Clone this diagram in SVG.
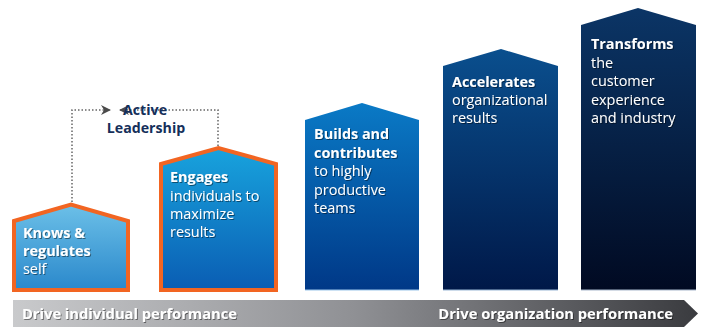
<svg xmlns="http://www.w3.org/2000/svg" width="702" height="328" viewBox="0 0 702 328">
<defs>
<style>
.t{font-family:"Open Sans","Noto Sans","Liberation Sans",sans-serif;font-size:14.4px;fill:#fff;filter:url(#sh)}
.b{font-weight:bold}
.bar{font-size:14.7px}
.al{font-family:"Open Sans","Noto Sans","Liberation Sans",sans-serif;font-size:14.2px;font-weight:bold;fill:#152f5a;text-anchor:middle}
.conn{fill:none;stroke:#666;stroke-width:1.5;stroke-dasharray:1.5 2}
.ob{stroke:#f26522;stroke-width:4;stroke-linejoin:miter}
</style>
<filter id="sh" x="-10%" y="-30%" width="130%" height="170%">
<feDropShadow dx="1" dy="1" stdDeviation="0.7" flood-color="#000" flood-opacity="0.45"/>
</filter>
<linearGradient id="g1" x1="0" y1="0" x2="0" y2="1"><stop offset="0" stop-color="#6cc0e8"/><stop offset="1" stop-color="#2a88cb"/></linearGradient>
<linearGradient id="g2" x1="0" y1="0" x2="0" y2="1"><stop offset="0" stop-color="#18a3dd"/><stop offset="1" stop-color="#0a5db3"/></linearGradient>
<linearGradient id="g3" x1="0" y1="0" x2="0" y2="1"><stop offset="0" stop-color="#0a7ac6"/><stop offset="1" stop-color="#003887"/></linearGradient>
<linearGradient id="g4" x1="0" y1="0" x2="0" y2="1"><stop offset="0" stop-color="#0a4f8e"/><stop offset="1" stop-color="#001848"/></linearGradient>
<linearGradient id="g5" x1="0" y1="0" x2="0" y2="1"><stop offset="0" stop-color="#0b3566"/><stop offset="1" stop-color="#010a22"/></linearGradient>
<linearGradient id="gb" x1="0" y1="0" x2="1" y2="0"><stop offset="0" stop-color="#c9cacc"/><stop offset="0.5" stop-color="#8f9094"/><stop offset="1" stop-color="#3a3b3f"/></linearGradient>
<marker id="ah" viewBox="0 0 10 10" refX="9" refY="5" markerWidth="10" markerHeight="10" markerUnits="userSpaceOnUse" orient="auto">
<path d="M0,0 L10,5 L0,10 L3,5 Z" fill="#4a4a4a"/>
</marker>
</defs>

<g id="connectors">
<path class="conn" d="M72,202 V110 H110" marker-end="url(#ah)"/>
<path class="conn" d="M218,146 V110 H120" marker-end="url(#ah)"/>
</g>

<g id="active-leadership">
<text class="al" x="145" y="115">Active</text>
<text class="al" x="146" y="133">Leadership</text>
</g>

<g id="node1">
<path class="ob" d="M14,221 L71,204.5 L128,221 V290 H14 Z" fill="url(#g1)"/>
<text class="t b" x="23" y="238">Knows &amp;</text>
<text class="t b" x="23" y="256">regulates</text>
<text class="t" x="23" y="274">self</text>
</g>

<g id="node2">
<path class="ob" d="M161,164 L218.5,148 L276,164 V290 H161 Z" fill="url(#g2)"/>
<text class="t b" x="170" y="182">Engages</text>
<text class="t" x="170" y="201">individuals to</text>
<text class="t" x="170" y="219">maximize</text>
<text class="t" x="170" y="237">results</text>
</g>

<g id="node3">
<path d="M305,120 L362,103 L419,120 V290 H305 Z" fill="url(#g3)"/>
<line x1="305" y1="290" x2="419" y2="290" stroke="#9cc6ea" stroke-width="1"/>
<text class="t b" x="314" y="139">Builds and</text>
<text class="t b" x="314" y="158">contributes</text>
<text class="t" x="314" y="176">to highly</text>
<text class="t" x="314" y="195">productive</text>
<text class="t" x="314" y="213">teams</text>
</g>

<g id="node4">
<path d="M443,66 L501,49 L558,66 V290 H443 Z" fill="url(#g4)"/>
<line x1="443" y1="290" x2="558" y2="290" stroke="#9bb8d6" stroke-width="1"/>
<text class="t b" x="452" y="87">Accelerates</text>
<text class="t" x="452" y="105">organizational</text>
<text class="t" x="452" y="123">results</text>
</g>

<g id="node5">
<path d="M581,25 L638,8 L696,25 V290 H581 Z" fill="url(#g5)"/>
<line x1="581" y1="290" x2="696" y2="290" stroke="#a9b8cc" stroke-width="1"/>
<text class="t b" x="591" y="49">Transforms</text>
<text class="t" x="591" y="68">the</text>
<text class="t" x="591" y="86">customer</text>
<text class="t" x="591" y="105">experience</text>
<text class="t" x="591" y="123">and industry</text>
</g>

<g id="bar">
<path d="M13,300 H684 L698,313.5 L684,327 H13 Z" fill="url(#gb)"/>
<text class="t b bar" x="22" y="319">Drive individual performance</text>
<text class="t b bar" x="673" y="319" text-anchor="end">Drive organization performance</text>
</g>
</svg>
